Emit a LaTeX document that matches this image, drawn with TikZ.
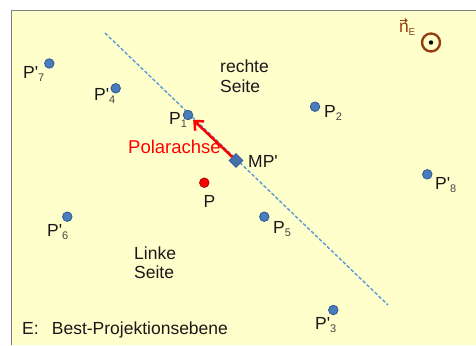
\documentclass[tikz,border=0pt]{standalone}
\usepackage{fontspec}
\setmainfont{Liberation Sans}
\usetikzlibrary{arrows.meta,shapes.geometric}
\definecolor{paper}{HTML}{FFFFCC}
\definecolor{frame}{HTML}{7F7F7F}
\definecolor{axisblue}{HTML}{5B9BD5}
\definecolor{dotblue}{HTML}{4A7EBB}
\definecolor{dotedge}{HTML}{2F5597}
\definecolor{normbrown}{HTML}{963F12}
\definecolor{subgray}{HTML}{444444}
\newcommand{\sbs}[1]{{\fontsize{11}{11}\selectfont\color{subgray}\raisebox{-3pt}{#1}}}
\newcommand{\apo}{\textquotesingle}
\tikzset{
  lbl/.style={anchor=base west,inner sep=0pt,font=\fontsize{17.5}{19}\selectfont,text=black!90},
  pdot/.style={circle,draw=dotedge,fill=dotblue,line width=0.8pt,minimum size=9.5pt,inner sep=0pt},
  rdot/.style={circle,draw=red!70!black,fill=red,line width=0.8pt,minimum size=9.5pt,inner sep=0pt},
  mdiam/.style={diamond,draw=dotedge,fill=dotblue!90!black,line width=0.8pt,minimum size=14pt,inner sep=0pt},
  planeline/.style={draw=axisblue,line width=1.4pt,dash pattern=on 3.5pt off 2pt},
  polar/.style={draw=red,line width=2.5pt,-{Straight Barb[length=7pt,width=13pt]}}
}
\begin{document}
\begin{tikzpicture}[x=1pt,y=-1pt]
\useasboundingbox (0,0) rectangle (476,345);
\fill[white] (0,0) rectangle (476,345);
% plane E
\fill[paper] (11,11) rectangle (476,345);
\draw[frame,line width=1pt] (11,345) -- (11,11) -- (476,11);
% intersection line of the plane
\coordinate (la) at (105,33);
\coordinate (lb) at (388,305);
\draw[planeline] (la) -- (lb);
% projected points
\node[pdot] (p7) at (49.3,63.5) {};
\node[pdot] (p4) at (115.7,88.3) {};
\node[pdot] (p1) at (188,115) {};
\node[pdot] (p2) at (315,106.7) {};
\node[pdot] (p5) at (264.3,216.7) {};
\node[pdot] (p6) at (67.3,216.7) {};
\node[pdot] (p8) at (427.3,174.3) {};
\node[pdot] (p3) at (333.3,310) {};
\node[rdot] (p) at (204.3,182.7) {};
\node[mdiam] (mp) at (236,160.5) {};
% polar axis
\draw[polar,shorten >=2pt] (mp) -- (p1);
\node[lbl,text=red,font=\fontsize{18.5}{19}\selectfont] (pol) at (128,153) {Polarachse};
% labels
\node[lbl] (l7) at (23,78.5) {P\apo\sbs{7}};
\node[lbl] (l4) at (94,100) {P\apo\sbs{4}};
\node[lbl] (l1) at (169,124) {P\sbs{1}};
\node[lbl] (l2) at (324,117) {P\sbs{2}};
\node[lbl] (lmp) at (248,167) {MP\apo};
\node[lbl] (lp) at (203.5,207) {P};
\node[lbl] (l5) at (273,233) {P\sbs{5}};
\node[lbl] (l6) at (47,236) {P\apo\sbs{6}};
\node[lbl] (l8) at (435,189) {P\apo\sbs{8}};
\node[lbl] (l3) at (315,329) {P\apo\sbs{3}};
\node[lbl,align=left] (rs) at (220,92) {rechte\\Seite};
\node[lbl,align=left] (ls) at (134,278) {Linke\\Seite};
\node[lbl] (ename) at (22,334) {E:\hspace{0.75em}Best-Projektionsebene};
% normal vector of the plane
\node[lbl,text=normbrown] (nvec) at (399,33) {n};
\node[anchor=base west,inner sep=0pt,font=\fontsize{10}{10}\selectfont,text=normbrown] (nsub) at (408.5,35.5) {E};
\draw[normbrown,line width=0.9pt,-{Straight Barb[length=2pt,width=4pt]}] (399.5,20.5) -- (407.5,20.5);
\node[circle,draw=normbrown,line width=2.4pt,minimum size=18pt,inner sep=0pt] (ncirc) at (431,42.5) {};
\fill[black] (ncirc.center) circle (2.2pt);
\end{tikzpicture}
\end{document}
